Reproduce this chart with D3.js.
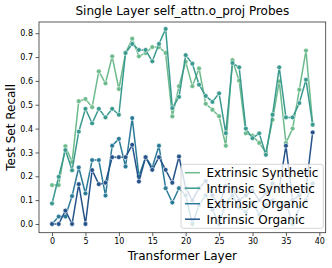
<!DOCTYPE html>
<html>
<head>
<meta charset="utf-8">
<script src="https://cdn.jsdelivr.net/npm/d3@7"></script>
<style>
  body { margin: 0; background: #fff; }
  text { font-family: "DejaVu Sans", sans-serif; fill: #000; }
</style>
</head>
<body>
<div id="chart"></div>
<script>
// layer index 0..39
const layers = d3.range(0, 40);

const seriesNames = ["Extrinsic Synthetic", "Intrinsic Synthetic", "Extrinsic Organic", "Intrinsic Organic"];

const extrinsicSynthetic = [0.163, 0.163, 0.326, 0.26, 0.515, 0.524, 0.49, 0.64, 0.59, 0.703,
  0.566, 0.717, 0.777, 0.703, 0.717, 0.742, 0.742, 0.717, 0.451, 0.578,
  0.68, 0.578, 0.652, 0.504, 0.479, 0.452, 0.328, 0.687, 0.601, 0.38,
  0.37, 0.34, 0.30, 0.437, 0.598, 0.34, 0.40, 0.563, 0.727, 0.42];

const intrinsicSynthetic = [0.086, 0.198, 0.31, 0.225, 0.387, 0.483, 0.422, 0.483, 0.447, 0.483,
  0.458, 0.717, 0.755, 0.73, 0.73, 0.682, 0.755, 0.818, 0.486, 0.533,
  0.708, 0.672, 0.584, 0.537, 0.512, 0.548, 0.381, 0.675, 0.657, 0.40,
  0.36, 0.38, 0.29, 0.458, 0.657, 0.447, 0.447, 0.507, 0.605, 0.416];

const extrinsicOrganic = [0.0, 0.031, 0.031, 0.117, 0.237, 0.128, 0.268, 0.268, 0.119, 0.328,
  0.357, 0.241, 0.444, 0.20, 0.28, 0.238, 0.328, 0.15, 0.09, 0.15,
  0.12, 0.0, 0.08, 0.12, 0.06, 0.0, 0.09, 0.12, 0.07, 0.05,
  0.09, 0.04, 0.08, 0.10, 0.06, 0.09, 0.0, 0.07, 0.10, 0.17];

const intrinsicOrganic = [0.0, 0.0, 0.056, 0.0, 0.167, 0.0, 0.226, 0.167, 0.173, 0.28,
  0.28, 0.28, 0.332, 0.178, 0.28, 0.227, 0.28, 0.227, 0.173, 0.283,
  0.15, 0.10, 0.15, 0.18, 0.12, 0.08, 0.16, 0.15, 0.10, 0.12,
  0.14, 0.10, 0.13, 0.17, 0.15, 0.328, 0.10, 0.12, 0.15, 0.384];

const colors = ["#6dba8c", "#3a9a8f", "#2b7b98", "#26548a"];

const xTicks = [0, 5, 10, 15, 20, 25, 30, 35, 40];
const yTicks = [0.0, 0.1, 0.2, 0.3, 0.4, 0.5, 0.6, 0.7, 0.8];

const W = 332, H = 268;
const plot = { left: 39, right: 325.7, top: 22, bottom: 232.7 };

const svg = d3.select("#chart").append("svg")
  .attr("width", W).attr("height", H);

const x = d3.scaleLinear().domain([-1.95, 40.95]).range([plot.left, plot.right]);
const y = d3.scaleLinear().domain([-0.0365, 0.847]).range([plot.bottom, plot.top]);

// axes
const xAxis = d3.axisBottom(x).tickValues(xTicks).tickFormat(d3.format("d")).tickSize(3.5).tickPadding(2.5);
const yAxis = d3.axisLeft(y).tickValues(yTicks).tickFormat(d3.format(".1f")).tickSize(3.5).tickPadding(2.5);

const gx = svg.append("g").attr("transform", `translate(0,${plot.bottom})`).call(xAxis);
const gy = svg.append("g").attr("transform", `translate(${plot.left},0)`).call(yAxis);
[gx, gy].forEach(g => {
  g.select(".domain").remove();
  g.selectAll(".tick line").attr("stroke", "#333").attr("stroke-width", 0.8);
  g.selectAll(".tick text").attr("font-size", "8px").attr("fill", "#000")
    .style("font-family", "DejaVu Sans, sans-serif");
});

// series
const allSeries = [extrinsicSynthetic, intrinsicSynthetic, extrinsicOrganic, intrinsicOrganic];
const line = d3.line().x((d, i) => x(layers[i])).y(d => y(d));

const plotG = svg.append("g");
allSeries.forEach((vals, k) => {
  plotG.append("path")
    .datum(vals)
    .attr("fill", "none")
    .attr("stroke", colors[k])
    .attr("stroke-width", 1.5)
    .attr("stroke-linejoin", "round")
    .attr("d", line);
  plotG.selectAll(null)
    .data(vals)
    .enter().append("circle")
    .attr("cx", (d, i) => x(layers[i]))
    .attr("cy", d => y(d))
    .attr("r", 2.4)
    .attr("fill", colors[k])
    .attr("stroke", "#fff")
    .attr("stroke-width", 0.6);
});

// frame
svg.append("rect")
  .attr("x", plot.left).attr("y", plot.top)
  .attr("width", plot.right - plot.left).attr("height", plot.bottom - plot.top)
  .attr("fill", "none").attr("stroke", "#333").attr("stroke-width", 0.8);

// legend
const leg = svg.append("g");
leg.append("rect")
  .attr("x", 181).attr("y", 164.3).attr("width", 142.3).attr("height", 64)
  .attr("rx", 2.5)
  .attr("fill", "#fff").attr("fill-opacity", 0.8)
  .attr("stroke", "#ccc").attr("stroke-width", 0.8);
seriesNames.forEach((name, k) => {
  const cy = 172.7 + k * 15.5;
  leg.append("line")
    .attr("x1", 185).attr("x2", 200).attr("y1", cy).attr("y2", cy)
    .attr("stroke", colors[k]).attr("stroke-width", 1.5);
  leg.append("text")
    .attr("x", 206.5).attr("y", cy).attr("dy", "0.36em")
    .attr("font-size", "12px")
    .text(name);
});

// title and labels
svg.append("text")
  .attr("x", (plot.left + plot.right) / 2).attr("y", 15)
  .attr("text-anchor", "middle").attr("font-size", "12px")
  .text("Single Layer self_attn.o_proj Probes");

svg.append("text")
  .attr("x", (plot.left + plot.right) / 2).attr("y", 260)
  .attr("text-anchor", "middle").attr("font-size", "12px")
  .text("Transformer Layer");

svg.append("text")
  .attr("transform", `translate(15,${(plot.top + plot.bottom) / 2}) rotate(-90)`)
  .attr("text-anchor", "middle").attr("font-size", "12px")
  .text("Test Set Recall");
</script>
</body>
</html>
